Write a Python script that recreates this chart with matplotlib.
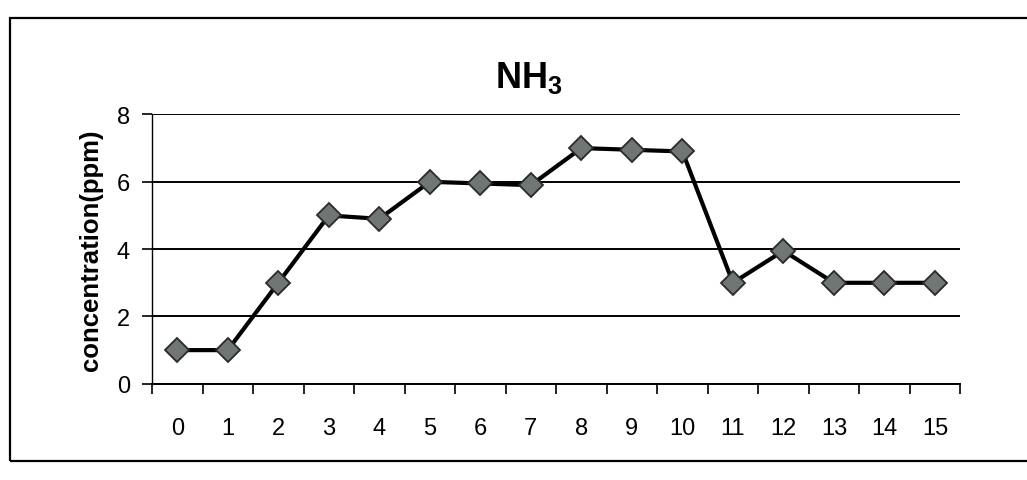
import numpy as np
import matplotlib
matplotlib.use("Agg")
import matplotlib.pyplot as plt
from matplotlib.patches import Rectangle

# hours and NH3 concentration (ppm), read against the local gridlines
hours = list(range(16))
nh3 = [1.0, 1.0, 3.0, 5.0, 4.9, 6.0, 5.95, 5.9, 7.0, 6.95, 6.9, 3.0, 3.95, 3.0, 3.0, 3.0]
yticks = [0, 2, 4, 6, 8]

plt.rcParams["font.family"] = ["Liberation Sans", "DejaVu Sans"]
plt.rcParams["mathtext.fontset"] = "custom"
plt.rcParams["mathtext.bf"] = "Liberation Sans:bold"
plt.rcParams["mathtext.rm"] = "Liberation Sans"


def main():
    fig = plt.figure(figsize=(10.27, 4.81), dpi=100)
    fig.patch.set_facecolor("white")

    # outer chart frame
    fig.patches.append(Rectangle((0.01, 0.04), 1.2, 0.92, transform=fig.transFigure,
                                 fill=False, edgecolor="black", linewidth=1.6))

    ax = fig.add_axes([0.148, 0.20, 0.787, 0.56])
    ax.plot(hours, nh3, color="black", linewidth=3, marker="D", markersize=12,
            markerfacecolor="#6f7674", markeredgecolor="#2a2a2a", markeredgewidth=1.3,
            zorder=3)

    ax.set_xlim(-0.5, 15.5)
    ax.set_ylim(0, 8)
    ax.set_yticks(yticks)
    ax.yaxis.grid(True, color="black", linewidth=1.4)
    ax.set_axisbelow(True)

    # category labels in the middle, tick marks between categories
    ax.set_xticks(hours)
    ax.set_xticklabels([str(h) for h in hours], fontsize=17)
    ax.set_xticks(np.arange(-0.5, 16, 1), minor=True)
    ax.tick_params(axis="x", which="major", length=0, pad=24)
    ax.tick_params(axis="x", which="minor", length=7, width=1.2, direction="out")
    ax.tick_params(axis="y", length=7, width=1.2, labelsize=17, pad=9)

    for s in ["top", "right"]:
        ax.spines[s].set_visible(False)
    ax.spines["left"].set_linewidth(1.0)
    ax.spines["bottom"].set_linewidth(1.4)

    ax.set_ylabel("concentration(ppm)", fontsize=18.5, fontweight="bold", labelpad=10)
    fig.text(0.515, 0.80, r"$\mathbf{NH_3}$", ha="center", va="bottom",
             fontsize=26)

    fig.savefig("out.png", dpi=100, facecolor=fig.get_facecolor())


main()
